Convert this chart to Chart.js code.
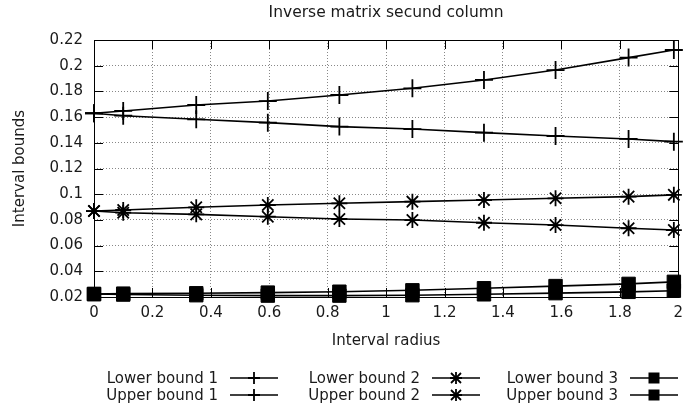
<!DOCTYPE html>
<html>
<head>
<meta charset="utf-8">
<title>Inverse matrix secund column</title>
<script src="https://cdn.jsdelivr.net/npm/chart.js@4.4.1/dist/chart.umd.min.js"></script>
<style>
  body { margin: 0; background: #fff; }
  #wrap { position: relative; width: 690px; height: 409px; }
  #legend { position: absolute; left: 0; top: 369px; width: 690px; font: 15px "DejaVu Sans", sans-serif; color: #1a1a1a; }
  .col { position: absolute; top: 0; }
  .row { display: flex; justify-content: flex-end; align-items: center; height: 17px; white-space: nowrap; }
  .row svg { margin-left: 12px; }
</style>
</head>
<body>
<div id="wrap">
  <canvas id="chart"></canvas>
  <div id="legend"></div>
</div>
<script>
// ── Data ──────────────────────────────────────
const radius = [0, 0.1, 0.35, 0.595, 0.84, 1.09, 1.335, 1.58, 1.83, 1.985];

const lower1 = [0.163, 0.1611, 0.1583, 0.1557, 0.1526, 0.1507, 0.1479, 0.1453, 0.143, 0.1409];
const upper1 = [0.163, 0.1648, 0.1694, 0.1725, 0.1772, 0.1824, 0.1889, 0.1966, 0.2063, 0.2122];
const lower2 = [0.0869, 0.0856, 0.0843, 0.0825, 0.0807, 0.0799, 0.0778, 0.076, 0.0735, 0.0721];
const upper2 = [0.0869, 0.0877, 0.0898, 0.0916, 0.0929, 0.0942, 0.0955, 0.0968, 0.0981, 0.0995];
const lower3 = [0.0223, 0.0219, 0.0214, 0.0211, 0.0211, 0.0214, 0.0221, 0.023, 0.024, 0.0249];
const upper3 = [0.0223, 0.0226, 0.0229, 0.0234, 0.0241, 0.0252, 0.0268, 0.0285, 0.0302, 0.0318];

const seriesNames = ['Lower bound 1', 'Upper bound 1', 'Lower bound 2', 'Upper bound 2', 'Lower bound 3', 'Upper bound 3'];

const xTicks = [0, 0.2, 0.4, 0.6, 0.8, 1, 1.2, 1.4, 1.6, 1.8, 2];
const yTicks = [0.02, 0.04, 0.06, 0.08, 0.1, 0.12, 0.14, 0.16, 0.18, 0.2, 0.22];

const FONT = '"DejaVu Sans", sans-serif';
const INK = '#1a1a1a';

// ── Helpers ──────────────────────────────────
const toPoints = ys => ys.map((y, i) => ({ x: radius[i], y: y }));

const markerFor = {
  cross: { pointStyle: 'cross', pointRadius: 9, pointBorderWidth: 1.8 },
  star:  { pointStyle: 'star',  pointRadius: 8, pointBorderWidth: 1.8 },
  rect:  { pointStyle: 'rect',  pointRadius: 9.5, pointBorderWidth: 1 }
};

function makeSet(name, ys, marker) {
  return Object.assign({
    label: name,
    data: toPoints(ys),
    borderColor: '#000',
    backgroundColor: '#000',
    pointBackgroundColor: '#000',
    pointBorderColor: '#000',
    borderWidth: 1.6,
    tension: 0,
    clip: false,
    marker: marker
  }, markerFor[marker]);
}

const datasets = [
  makeSet(seriesNames[0], lower1, 'cross'),
  makeSet(seriesNames[1], upper1, 'cross'),
  makeSet(seriesNames[2], lower2, 'star'),
  makeSet(seriesNames[3], upper2, 'star'),
  makeSet(seriesNames[4], lower3, 'rect'),
  makeSet(seriesNames[5], upper3, 'rect')
];

// ── Plot frame + inward tick marks (gnuplot style) ──
const framePlugin = {
  id: 'frame',
  afterDraw(chart) {
    const { ctx, chartArea: a, scales } = chart;
    const len = 9;
    ctx.save();
    ctx.strokeStyle = '#000';
    ctx.lineWidth = 1;
    ctx.beginPath();
    scales.y.ticks.forEach(t => {
      const py = Math.round(scales.y.getPixelForValue(t.value)) + 0.5;
      ctx.moveTo(a.left, py); ctx.lineTo(a.left + len, py);
      ctx.moveTo(a.right, py); ctx.lineTo(a.right - len, py);
    });
    scales.x.ticks.forEach(t => {
      const px = Math.round(scales.x.getPixelForValue(t.value)) + 0.5;
      ctx.moveTo(px, a.bottom); ctx.lineTo(px, a.bottom - len);
      ctx.moveTo(px, a.top); ctx.lineTo(px, a.top + len);
    });
    ctx.stroke();
    ctx.strokeRect(Math.round(a.left) + 0.5, Math.round(a.top) + 0.5,
                   Math.round(a.right - a.left), Math.round(a.bottom - a.top));
    ctx.restore();
  }
};

const gridStyle = { color: '#888', drawTicks: false, lineWidth: 1 };
const borderStyle = { display: false, dash: [1, 2] };

// ── Chart ────────────────────────────────────
const chart = new Chart(document.getElementById('chart'), {
  type: 'line',
  data: { datasets: datasets },
  plugins: [framePlugin],
  options: {
    responsive: true,
    maintainAspectRatio: false,
    animation: false,
    events: [],
    layout: { padding: { left: 0, right: 8, top: 0, bottom: 50 } },
    plugins: {
      legend: { display: false },
      tooltip: { enabled: false },
      title: {
        display: true,
        fullSize: false,
        text: 'Inverse matrix secund column',
        color: INK,
        font: { family: FONT, size: 15.5, weight: 'normal' },
        padding: { top: 4, bottom: 17.4 }
      }
    },
    scales: {
      x: {
        type: 'linear',
        min: 0,
        max: 2,
        afterBuildTicks: s => { s.ticks = xTicks.map(v => ({ value: v })); },
        afterFit: s => { s.height = 62; },
        ticks: {
          color: INK,
          padding: 7,
          maxRotation: 0,
          font: { family: FONT, size: 15 },
          callback: v => String(v)
        },
        grid: gridStyle,
        border: borderStyle,
        title: {
          display: true,
          text: 'Interval radius',
          color: INK,
          font: { family: FONT, size: 15 },
          padding: { top: 0, bottom: 9 }
        }
      },
      y: {
        type: 'linear',
        min: 0.02,
        max: 0.22,
        afterBuildTicks: s => { s.ticks = yTicks.map(v => ({ value: v })); },
        afterFit: s => { s.width = 94; },
        ticks: {
          color: INK,
          padding: 11,
          font: { family: FONT, size: 15 },
          callback: v => String(v)
        },
        grid: gridStyle,
        border: borderStyle,
        title: {
          display: true,
          text: 'Interval bounds',
          color: INK,
          font: { family: FONT, size: 15 },
          padding: { top: 11, bottom: 0 }
        }
      }
    }
  }
});

// ── HTML legend (text first, sample after, like gnuplot) ──
function sampleSvg(marker) {
  const w = 48, h = 16, cx = 24, cy = 8;
  let m = '';
  if (marker === 'cross') {
    m = `<path d="M${cx} ${cy - 6}V${cy + 6}M${cx - 6} ${cy}H${cx + 6}" stroke="#000" stroke-width="1.8"/>`;
  } else if (marker === 'star') {
    m = `<path d="M${cx} ${cy - 6}V${cy + 6}M${cx - 6} ${cy}H${cx + 6}M${cx - 5} ${cy - 5}L${cx + 5} ${cy + 5}M${cx - 5} ${cy + 5}L${cx + 5} ${cy - 5}" stroke="#000" stroke-width="1.8"/>`;
  } else {
    m = `<rect x="${cx - 5.5}" y="${cy - 5.5}" width="11" height="11" fill="#000"/>`;
  }
  return `<svg width="${w}" height="${h}" viewBox="0 0 ${w} ${h}">` +
    `<line x1="0" y1="${cy}" x2="${w}" y2="${cy}" stroke="#000" stroke-width="1.6"/>${m}</svg>`;
}

const legendEl = document.getElementById('legend');
const colRight = [278, 480, 678];
colRight.forEach((r, c) => {
  const col = document.createElement('div');
  col.className = 'col';
  col.style.right = (690 - r) + 'px';
  [0, 1].forEach(k => {
    const ds = chart.data.datasets[c * 2 + k];
    const row = document.createElement('div');
    row.className = 'row';
    const span = document.createElement('span');
    span.textContent = ds.label;
    row.appendChild(span);
    row.insertAdjacentHTML('beforeend', sampleSvg(ds.marker));
    col.appendChild(row);
  });
  legendEl.appendChild(col);
});
</script>
</body>
</html>
